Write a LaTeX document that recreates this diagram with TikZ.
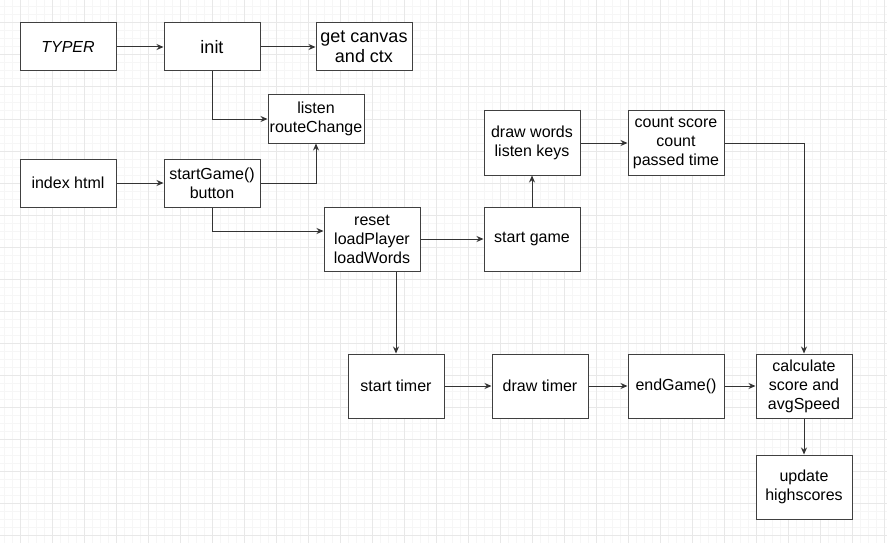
\documentclass[tikz,border=0pt]{standalone}
\usepackage{fontspec}
\setmainfont{Liberation Sans}
\usetikzlibrary{arrows.meta}

\tikzset{
  box/.style={draw=black!75, line width=1pt, fill=white, minimum width=96pt,
    minimum height=48pt, align=center, inner sep=1pt, font=\fontsize{16}{19}\selectfont},
  tall/.style={box, minimum height=64pt},
  big/.style={font=\fontsize{18}{20}\selectfont},
  arr/.style={-{Stealth[length=7pt,width=6pt]}, draw=black!80, line width=1pt},
  minorline/.style={draw=gray!7, line width=1pt},
  majorline/.style={draw=gray!18, line width=1pt},
}

\begin{document}
\begin{tikzpicture}[x=1pt,y=-1pt]
        \useasboundingbox (0,0) rectangle (887,543);
        \fill[white] (0,0) rectangle (887,543);
        
        % grid
        \foreach \gx in {4,12,...,884} \draw[minorline] (\gx,0) -- (\gx,543);
        \foreach \gy in {7,15,...,543} \draw[minorline] (0,\gy) -- (887,\gy);
        \foreach \gx in {20,52,...,884} \draw[majorline] (\gx,0) -- (\gx,543);
        \foreach \gy in {23,55,...,535} \draw[majorline] (0,\gy) -- (887,\gy);
        
        % boxes
        \node[box] (typer) at (68,47) {\itshape TYPER};
        \node[box, big] (init) at (212,47) {init};
        \node[box, big] (canvas) at (364,47) {get canvas\\and ctx};
        \node[box] (listen) at (316,119) {listen\\routeChange};
        \node[box] (index) at (68,183) {index html};
        \node[box] (button) at (212,183) {startGame()\\button};
        \node[tall] (reset) at (372,239) {reset\\loadPlayer\\loadWords};
        \node[tall] (words) at (532,143) {draw words\\listen keys};
        \node[tall] (count) at (676,143) {count score\\count\\passed time};
        \node[tall] (game) at (532,239) {start game};
        \node[tall] (timer) at (396,386) {start timer};
        \node[tall] (drawtimer) at (540,386) {draw timer};
        \node[tall] (endgame) at (676,386) {endGame()};
        \node[tall] (calc) at (804,386) {calculate\\score and\\avgSpeed};
        \node[tall] (update) at (804,487) {update\\highscores};
        
        % arrows
        \draw[arr] (typer) -- (init);
        \draw[arr] (init) -- (canvas);
        \draw[arr] (init.south) |- (listen.west);
        \draw[arr] (index) -- (button);
        \draw[arr] (button.east) -| (listen.south);
        \draw[arr] (button.south) |- ([yshift=8pt]reset.west);
        \draw[arr] (reset) -- (game);
        \draw[arr] (game) -- (words);
        \draw[arr] (words) -- (count);
        \draw[arr] (count.east) -| (calc.north);
        \draw[arr] (timer.north |- reset.south) -- (timer.north);
        \draw[arr] (timer) -- (drawtimer);
        \draw[arr] (drawtimer) -- (endgame);
        \draw[arr] (endgame) -- (calc);
        \draw[arr] (calc) -- (update);
    \end{tikzpicture}
\end{document}
